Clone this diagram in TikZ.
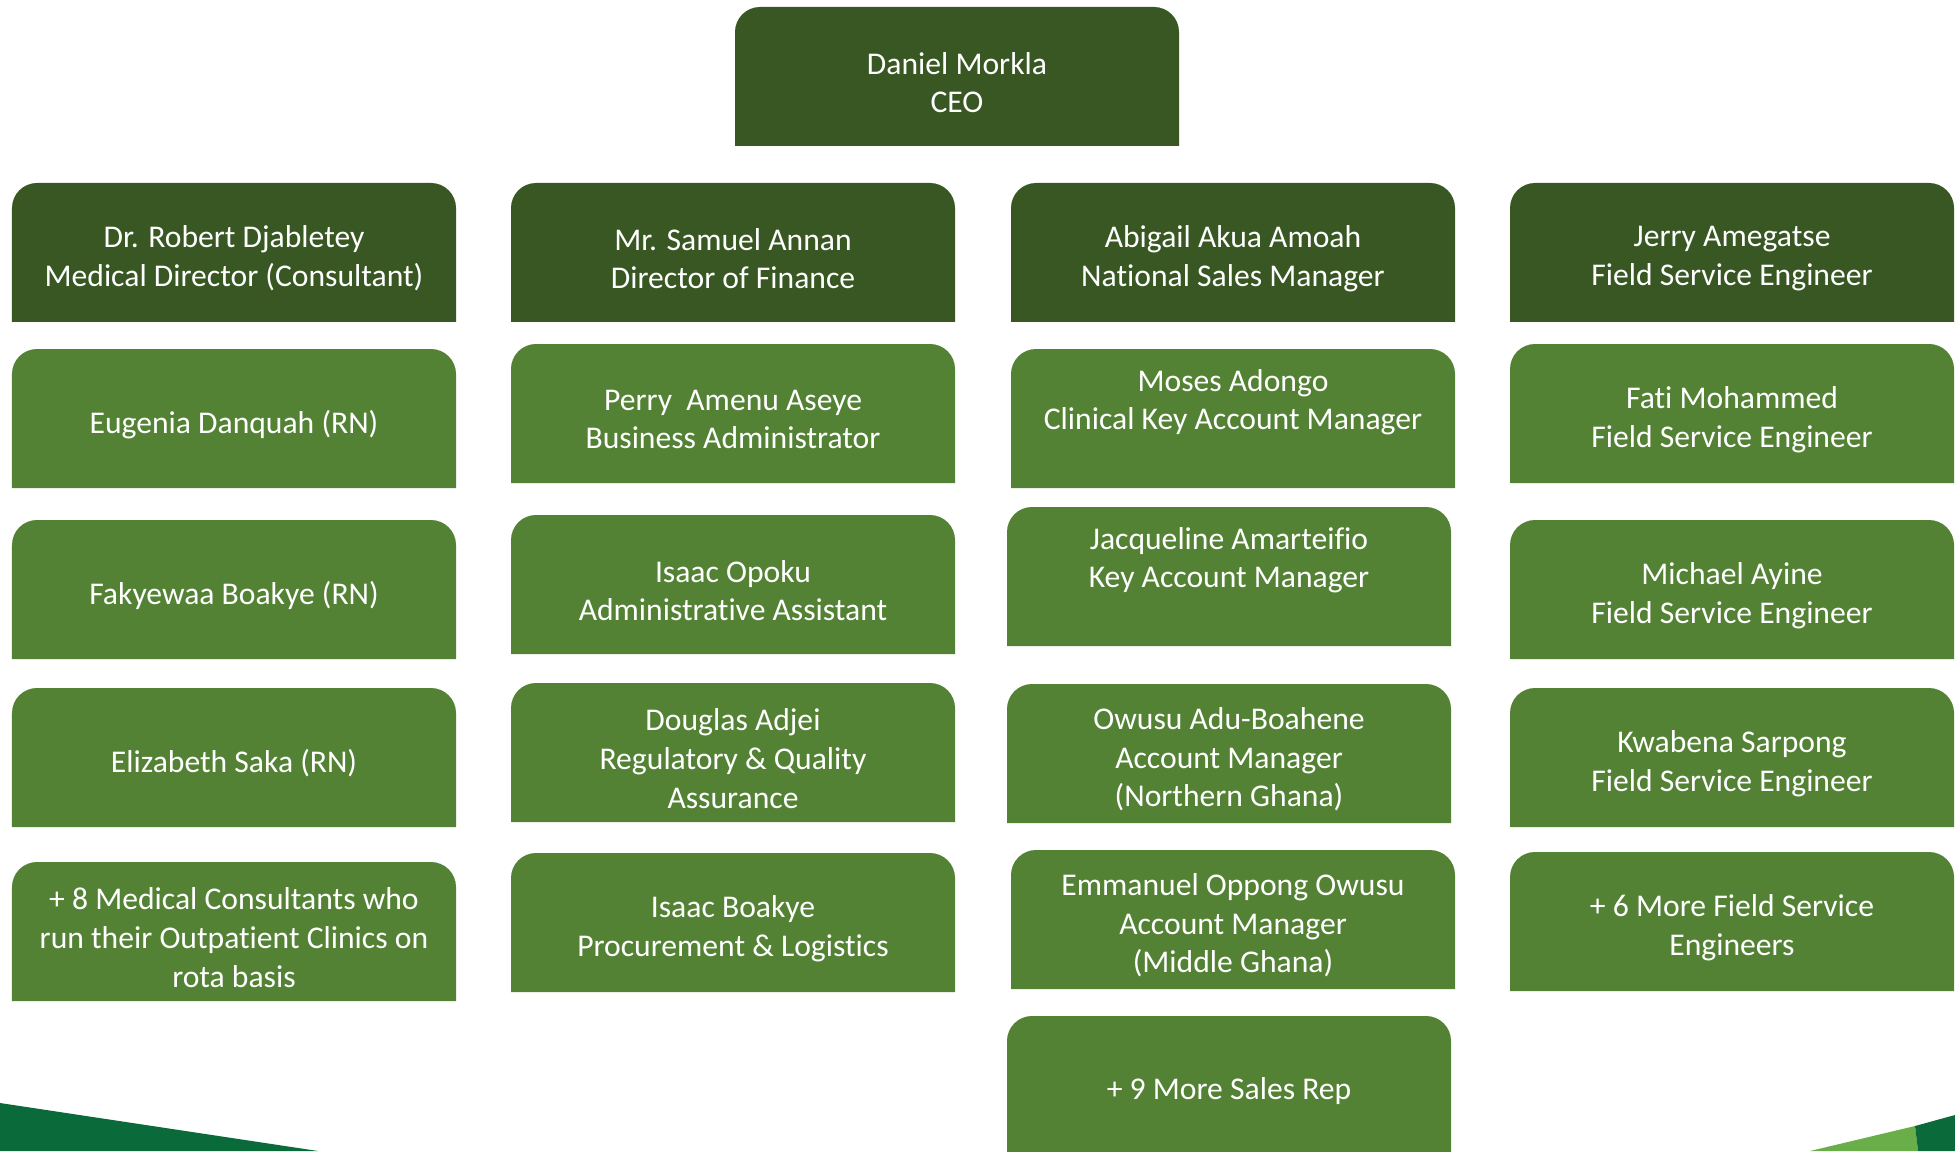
\documentclass[tikz,border=0pt]{standalone}
\usepackage{fontspec}
\setmainfont{Carlito}[Ligatures=CommonOff]

\definecolor{headgreen}{HTML}{385723}
\definecolor{staffgreen}{HTML}{548235}
\definecolor{footdark}{HTML}{0B6A3A}
\definecolor{footlight}{HTML}{6AAE4A}

% green tab with rounded top corners, square bottom
% (node is 0.12cm taller than the tab, so the text sits a bit low as in the slide)
\newcommand{\toptab}[1]{%
  \fill[#1] ([yshift=0.12cm]path picture bounding box.south west)
    -- ([yshift=-0.25cm]path picture bounding box.north west)
    arc[start angle=180, end angle=90, radius=0.25cm]
    -- ([xshift=-0.25cm]path picture bounding box.north east)
    arc[start angle=90, end angle=0, radius=0.25cm]
    -- ([yshift=0.12cm]path picture bounding box.south east) -- cycle;}

\tikzstyle{orgbox}=[fill=white, minimum width=4.44cm, minimum height=1.51cm, inner sep=0pt, align=center, text=white, font=\fontsize{9}{11}\selectfont]
\tikzstyle{head}=[orgbox, path picture={\toptab{headgreen}}]
\tikzstyle{staff}=[orgbox, path picture={\toptab{staffgreen}}]

\begin{document}
\begin{tikzpicture}
    \clip (0,0) rectangle (19.55,11.51);
    % footer strips
    \fill[footdark] (0,0) -- (0,0.48) -- (3.18,0) -- cycle;
    \fill[footlight] (18.10,0) -- (19.15,0.25) -- (19.18,0) -- cycle;
    \fill[footdark] (19.15,0.25) -- (19.55,0.36) -- (19.55,0) -- (19.18,0) -- cycle;

    % top level
    \node[head] (ceo) at (9.57,10.685) {Daniel Morkla\\CEO};
    \node[head] (med) at (2.34,8.925) {Dr. Robert Djabletey\\Medical Director (Consultant)};
    \node[head] (fin) at (7.33,8.925) {Mr. Samuel Annan\\Director of Finance};
    \node[head] (sales) at (12.33,8.925) {Abigail Akua Amoah\\National Sales Manager};
    \node[head] (field) at (17.32,8.925) {Jerry Amegatse\\Field Service Engineer};

    % medical
    \node[staff] (med1) at (2.34,7.265) {Eugenia Danquah (RN)};
    \node[staff] (med2) at (2.34,5.555) {Fakyewaa Boakye (RN)};
    \node[staff] (med3) at (2.34,3.875) {Elizabeth Saka (RN)};
    \node[staff] (med4) at (2.34,2.135) {+ 8 Medical Consultants who\\run their Outpatient Clinics on\\rota basis};

    % finance
    \node[staff] (fin1) at (7.33,7.315) {Perry~ Amenu Aseye\\Business Administrator};
    \node[staff] (fin2) at (7.33,5.605) {Isaac Opoku\\Administrative Assistant};
    \node[staff] (fin3) at (7.33,3.925) {Douglas Adjei\\Regulatory \& Quality\\Assurance};
    \node[staff] (fin4) at (7.33,2.225) {Isaac Boakye\\Procurement \& Logistics};

    % sales
    \node[staff] (sales1) at (12.33,7.265) {Moses Adongo\\Clinical Key Account Manager\\\strut};
    \node[staff] (sales2) at (12.29,5.685) {Jacqueline Amarteifio\\Key Account Manager\\\strut};
    \node[staff] (sales3) at (12.29,3.915) {Owusu Adu-Boahene\\Account Manager\\(Northern Ghana)};
    \node[staff] (sales4) at (12.33,2.255) {Emmanuel Oppong Owusu\\Account Manager\\(Middle Ghana)};
    \node[staff] (sales5) at (12.29,0.595) {+ 9 More Sales Rep};

    % field service
    \node[staff] (field1) at (17.32,7.315) {Fati Mohammed\\Field Service Engineer};
    \node[staff] (field2) at (17.32,5.555) {Michael Ayine\\Field Service Engineer};
    \node[staff] (field3) at (17.32,3.875) {Kwabena Sarpong\\Field Service Engineer};
    \node[staff] (field4) at (17.32,2.235) {+ 6 More Field Service\\Engineers};
\end{tikzpicture}
\end{document}
